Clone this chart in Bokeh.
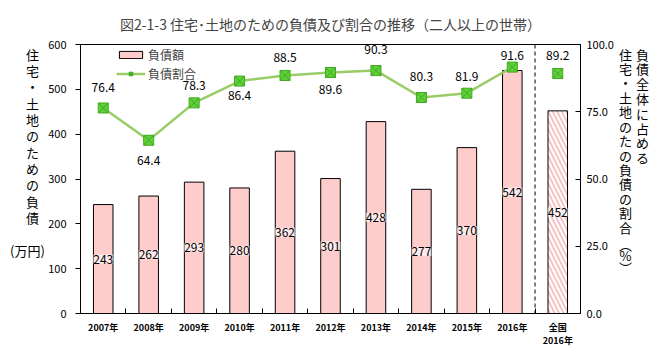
import numpy as np
from bokeh.plotting import figure
from bokeh.layouts import row
from bokeh.models import (ColumnDataSource, Range1d, LinearAxis, FixedTicker,
                          NumeralTickFormatter, LabelSet, Span, Legend, LegendItem)
from bokeh.core.properties import value
from bokeh.embed import file_html
from bokeh.resources import INLINE

# ---------------- data ----------------
title_text = "図2-1-3 住宅･土地のための負債及び割合の推移（二人以上の世帯）"
years = ["2007年", "2008年", "2009年", "2010年", "2011年", "2012年",
         "2013年", "2014年", "2015年", "2016年"]
debt_amount = [243, 262, 293, 280, 362, 301, 428, 277, 370, 542]   # 万円
debt_ratio = [76.4, 64.4, 78.3, 86.4, 88.5, 89.6, 90.3, 80.3, 81.9, 91.6]  # %
national_label = "全国\n2016年"
national_amount = 452
national_ratio = 89.2
left_ticks = [0, 100, 200, 300, 400, 500, 600]
right_ticks = [0, 25, 50, 75, 100]
left_title = "住宅・土地のための負債"
left_unit = "(万円)"
right_title_1 = "負債全体に占める"
right_title_2 = "住宅・土地のたの負債の割合"
right_unit = "︵%︶"

# ---------------- styles ----------------
FONT = "Noto Sans CJK JP"
BAR_FILL = "#ffcccc"
LINE_COLOR = "#99cc66"
MARK_FILL = "#5fd03a"
MARK_LINE = "#3fa81f"
ratio_label_dy = [20, -20, 17, -14, 18, -17, 21, 21, 17, 12, 18]
H = 350
TOP, BOTTOM = 44, 37
LW, MW, RW = 44, 572, 44

categories = years + [national_label]
pos = np.arange(len(categories)) + 0.5
n = len(years)

p = figure(width=MW, height=H,
           x_range=Range1d(0, len(categories)), y_range=Range1d(0, 600),
           output_backend="svg", toolbar_location=None,
           min_border_left=36, min_border_right=36,
           min_border_top=TOP, min_border_bottom=BOTTOM)
p.grid.visible = False
p.outline_line_color = "black"
p.outline_line_width = 1
p.background_fill_color = "white"
p.border_fill_color = "white"
p.title.text = title_text
p.title.align = "center"
p.title.text_font = FONT
p.title.text_font_size = "14px"
p.title.text_font_style = "normal"
p.title.standoff = 21

# x axis
xa = p.xaxis[0]
xa.ticker = FixedTicker(ticks=list(pos), minor_ticks=list(range(1, len(categories))))
xa.major_label_overrides = {float(x): c for x, c in zip(pos, categories)}
xa.major_tick_line_color = None
xa.major_tick_in = 0
xa.major_tick_out = 0
xa.minor_tick_in = 5
xa.minor_tick_out = 0
xa.minor_tick_line_color = "black"
xa.axis_line_color = "black"
xa.major_label_text_font = FONT
xa.major_label_text_font_size = "9px"
xa.major_label_text_font_style = "bold"
xa.major_label_text_color = "black"
xa.major_label_standoff = 7
xa.major_label_text_line_height = 1.07

# left y axis
ya = p.yaxis[0]
ya.ticker = FixedTicker(ticks=left_ticks)
ya.major_tick_in = 0
ya.major_tick_out = 5
ya.minor_tick_line_color = None
ya.axis_line_color = "black"
ya.major_tick_line_color = "black"
ya.major_label_text_font = FONT
ya.major_label_text_font_size = "11px"
ya.major_label_text_color = "black"
ya.major_label_standoff = 9

# right y axis
p.extra_y_ranges = {"ratio": Range1d(0, 100)}
ra = LinearAxis(y_range_name="ratio", ticker=FixedTicker(ticks=right_ticks),
                formatter=NumeralTickFormatter(format="0.0"))
ra.major_tick_in = 5
ra.major_tick_out = 0
ra.minor_tick_line_color = None
ra.axis_line_color = "black"
ra.major_tick_line_color = "black"
ra.major_label_text_font = FONT
ra.major_label_text_font_size = "11px"
ra.major_label_text_color = "black"
ra.major_label_standoff = 6
p.add_layout(ra, "right")

# bars
bar_src = ColumnDataSource(dict(x=pos[:n], top=debt_amount))
bars = p.vbar(x="x", top="top", width=0.43, source=bar_src,
              fill_color=BAR_FILL, line_color="black", line_width=1)
p.vbar(x=[pos[n]], top=[national_amount], width=0.43, fill_color="white",
       line_color="black", line_width=1, hatch_pattern="\\",
       hatch_color="#f5c4c4", hatch_scale=9, hatch_weight=2)

all_amount = debt_amount + [national_amount]
amt_src = ColumnDataSource(dict(x=pos, y=[v / 2 for v in all_amount],
                                t=[str(v) for v in all_amount]))
p.add_layout(LabelSet(x="x", y="y", text="t", source=amt_src,
                      text_align="center", text_baseline="middle",
                      text_font=value(FONT), text_font_size="12px", text_color="black",
                      background_fill_color="white", background_fill_alpha=0.6))

# dashed separator
p.add_layout(Span(location=float(n), dimension="height", line_color="black",
                  line_dash="4 3", line_width=1))

# ratio line
line = p.line(x=pos[:n], y=debt_ratio, y_range_name="ratio",
              line_color=LINE_COLOR, line_width=2.5)
marks = p.scatter(x=pos[:n], y=debt_ratio, y_range_name="ratio", marker="square_x",
                  size=10, fill_color=MARK_FILL, line_color=MARK_LINE, line_width=1)
p.scatter(x=[pos[n]], y=[national_ratio], y_range_name="ratio", marker="square_x",
          size=10, fill_color=MARK_FILL, line_color=MARK_LINE, line_width=1)

all_ratio = debt_ratio + [national_ratio]
rat_src = ColumnDataSource(dict(x=pos, y=all_ratio, t=[f"{v:.1f}" for v in all_ratio],
                                dy=ratio_label_dy))
p.add_layout(LabelSet(x="x", y="y", text="t", y_offset="dy", source=rat_src,
                      y_range_name="ratio", text_align="center", text_baseline="middle",
                      text_font=value(FONT), text_font_size="12px", text_color="black"))

# legend
legend = Legend(items=[LegendItem(label="負債額", renderers=[bars]),
                       LegendItem(label="負債割合", renderers=[line, marks])],
                location=(36, 231), border_line_color=None, background_fill_alpha=0,
                glyph_width=29, glyph_height=9, label_height=16, spacing=2,
                padding=2, margin=0, label_standoff=3,
                label_text_font=FONT, label_text_font_size="12px")
p.add_layout(legend)


# side text panels (vertical Japanese axis titles); y in page pixels from top
def side_fig(w):
    f = figure(title=None, width=w, height=H,
               x_range=Range1d(0, w), y_range=Range1d(H - BOTTOM, TOP),
               x_axis_type=None, y_axis_type=None, output_backend="svg",
               toolbar_location=None, min_border_left=0, min_border_right=0,
               min_border_top=TOP, min_border_bottom=BOTTOM)
    f.grid.visible = False
    f.outline_line_color = None
    f.background_fill_color = "white"
    f.border_fill_color = "white"
    return f


def vtext(f, x, y, s, lh, size="13px", vertical=True):
    f.text(x=[x], y=[y], text=["\n".join(s) if vertical else s],
           text_font=value(FONT), text_font_size=size, text_align="center",
           text_baseline="top", text_line_height=lh, text_color="black")


lf = side_fig(LW)
vtext(lf, 32, 44, left_title, 0.86)
vtext(lf, 27, 240, left_unit, 1.0, vertical=False)

rf = side_fig(RW)
vtext(rf, 26, 44, right_title_1, 0.78)
vtext(rf, 9, 44, right_title_2, 0.76)
vtext(rf, 9, 234, right_unit, 0.62)

layout = row(lf, p, rf)
open("out.html", "w").write(file_html(layout, INLINE))
